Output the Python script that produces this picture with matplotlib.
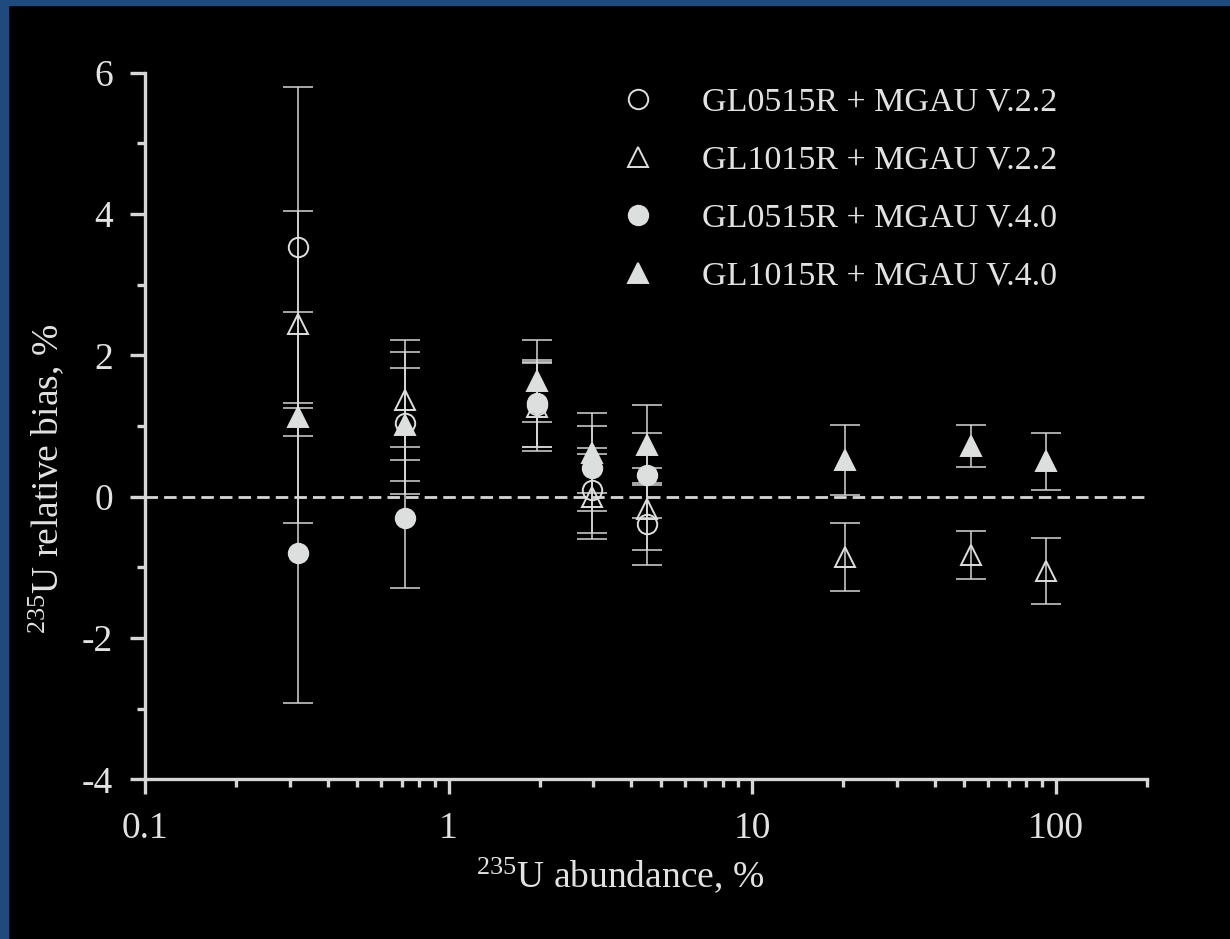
import matplotlib
matplotlib.use('Agg')
import matplotlib.pyplot as plt
from matplotlib.patches import Rectangle

# 235U abundance (%) of the standards
abund = [0.32, 0.72, 1.95, 2.98, 4.5, 20.2, 52.8, 93.3]

# relative bias (%) and its uncertainty for each detector / code pair
bias_gl05_v22 = [3.53, 1.04, 1.30, 0.09, -0.39]
err_gl05_v22 = [2.27, 1.00, 0.60, 0.60, 0.58]

bias_gl10_v22 = [2.45, 1.37, 1.27, 0.00, -0.17, -0.85, -0.82, -1.05]
err_gl10_v22 = [1.59, 0.85, 0.62, 0.60, 0.58, 0.48, 0.34, 0.47]

bias_gl05_v40 = [-0.80, -0.30, 1.32, 0.40, 0.30]
err_gl05_v40 = [2.12, 1.00, 0.62, 0.60, 0.60]

bias_gl10_v40 = [1.12, 1.02, 1.63, 0.62, 0.73, 0.52, 0.72, 0.50]
err_gl10_v40 = [1.50, 0.80, 0.58, 0.57, 0.56, 0.49, 0.30, 0.40]

labels = ['GL0515R + MGAU V.2.2', 'GL1015R + MGAU V.2.2',
          'GL0515R + MGAU V.4.0', 'GL1015R + MGAU V.4.0']

fg = '#dcdfde'
line_col = '#d6d6d6'
txt_col = '#e2e2e2'

plt.rcParams['font.family'] = ['Liberation Serif', 'DejaVu Serif']
plt.rcParams['mathtext.fontset'] = 'custom'
plt.rcParams['mathtext.rm'] = 'Liberation Serif'
plt.rcParams['mathtext.default'] = 'regular'
plt.rcParams['axes.unicode_minus'] = False

fig = plt.figure(figsize=(12.3, 9.39), dpi=100, facecolor='black')
ax = fig.add_axes([0.1179, 0.1701, 0.8146, 0.7525])
ax.set_facecolor('black')

# left and top blue frame of the slide
fig.patches.append(Rectangle((0, 0), 8 / 1230, 1, transform=fig.transFigure,
                             color='#1f4a7e', zorder=0))
fig.patches.append(Rectangle((0, 1 - 5 / 939), 1, 5 / 939, transform=fig.transFigure,
                             color='#1f4a7e', zorder=0))

ax.axhline(0, color=line_col, lw=2, linestyle=(0, (4.5, 2.2)), zorder=1)

series = [
    (abund[:5], bias_gl05_v22, err_gl05_v22, 'o', 'none', 14),
    (abund, bias_gl10_v22, err_gl10_v22, '^', 'none', 15),
    (abund[:5], bias_gl05_v40, err_gl05_v40, 'o', fg, 14),
    (abund, bias_gl10_v40, err_gl10_v40, '^', fg, 15),
]

handles = []
for (x, y, e, m, face, ms), lab in zip(series, labels):
    ax.errorbar(x, y, yerr=e, fmt='none', ecolor=line_col, elinewidth=1.1,
                capsize=11, capthick=1.1, zorder=2)
    h, = ax.plot(x, y, linestyle='none', marker=m, ms=ms, mfc=face,
                 mec=fg, mew=1.4, label=lab, zorder=3)
    handles.append(h)

ax.set_xscale('log')
ax.set_xlim(0.1, 200)
ax.set_ylim(-4, 6)
ax.set_yticks([-4, -2, 0, 2, 4, 6])
ax.set_yticks([-3, -1, 1, 3, 5], minor=True)
ax.set_xticks([0.1, 1, 10, 100])
ax.set_xticklabels(['0.1', '1', '10', '100'])

for side in ['top', 'right']:
    ax.spines[side].set_visible(False)
for side in ['left', 'bottom']:
    ax.spines[side].set_color(line_col)
    ax.spines[side].set_linewidth(2.4)

ax.tick_params(which='major', direction='out', length=11, width=2.4,
               color=line_col, labelcolor=txt_col, labelsize=27, pad=12)
ax.tick_params(which='minor', direction='out', length=6, width=2.4,
               color=line_col)
ax.tick_params(axis='x', which='minor', labelbottom=False)

ax.set_xlabel('$^{235}$U abundance, %', fontsize=27, color=txt_col)
ax.set_ylabel('$^{235}$U relative bias, %', fontsize=27, color=txt_col)
ax.xaxis.set_label_coords(0.474, -0.108)
ax.yaxis.set_label_coords(-0.079, 0.425)

leg = ax.legend(handles=handles, loc='upper left', bbox_to_anchor=(0.4577, 0.98),
                frameon=False, fontsize=24.5, handlelength=2.0, handletextpad=0.9,
                labelspacing=0.8, borderpad=0, borderaxespad=0)
for t in leg.get_texts():
    t.set_color(txt_col)

fig.savefig('out.png', dpi=100, facecolor='black')
